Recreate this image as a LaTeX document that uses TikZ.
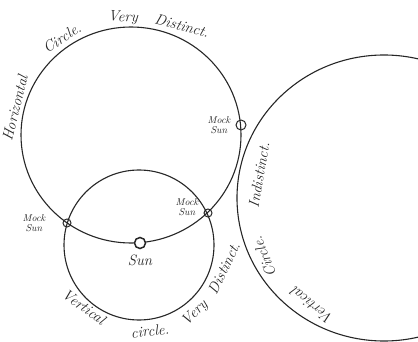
\documentclass[tikz,border=0pt]{standalone}
\usepackage{tikz}
\usetikzlibrary{positioning}
\tikzstyle{ring} = [draw=black!85, line width=1.1pt]
\tikzstyle{spot} = [draw=black!85, circle, inner sep=0pt, minimum size=8pt, line width=1pt]
\tikzstyle{hand} = [font=\fontsize{15}{15}\selectfont\itshape, inner sep=0pt, text=black!85]
\tikzstyle{small} = [font=\fontsize{10}{10}\selectfont\itshape, align=center, inner sep=0pt, text=black!85]

\begin{document}
\begin{tikzpicture}[x=1pt,y=-1pt]
    \useasboundingbox (0,0) rectangle (418,342);
    \clip (0,0) rectangle (418,342);
    % centres of the three circles
    \coordinate (hc) at (131,135);
    \coordinate (vc) at (139,245);
    \coordinate (rc) at (384,198);

    \draw [ring] (hc) ellipse [x radius=110, y radius=108];
    \draw [ring] (vc) circle [radius=75];
    \draw [ring] (rc) ellipse [x radius=147, y radius=143];

    % suns
    \node [spot, fill=white, minimum size=11pt, line width=1.5pt] (sun) at (140,243) {};
    \node [spot, minimum height=10pt] (msup) at (241,125) {};
    \node [spot] (msleft) at (67,223) {};
    \node [spot] (msright) at (208,213) {};

    \node [hand, below=5pt of sun] (sunlab) {Sun};
    \node [small, left=5pt of msup] (msuplab) {Mock\\Sun};
    \node [small, left=17pt of msleft] (msleftlab) {Mock\\Sun};
    \node [small, left=5pt of msright, yshift=6pt] (msrightlab) {Mock\\Sun};

    % horizontal circle
    \node [hand, rotate=76] (hor) at (15,108) {Horizontal};
    \node [hand, rotate=33] (hcir) at (62,38) {Circle.};
    \node [hand, rotate=-3] (hvery) at (123,18) {Very};
    \node [hand, rotate=-15] (hdist) at (182,26) {Distinct.};

    % vertical circle, very distinct
    \node [hand, rotate=-36] (vert) at (84,307) {Vertical};
    \node [hand, rotate=6] (vcir) at (150,331) {circle.};
    \node [hand, rotate=45] (vvery) at (195,313) {Very};
    \node [hand, rotate=64] (vdist) at (224,268) {Distinct.};

    % vertical circle, indistinct
    \node [hand, rotate=141] (rvert) at (312,306) {Vertical};
    \node [hand, rotate=112] (rcir) at (264,257) {Circle.};
    \node [hand, rotate=80] (rind) at (259,175) {Indistinct.};
\end{tikzpicture}
\end{document}
